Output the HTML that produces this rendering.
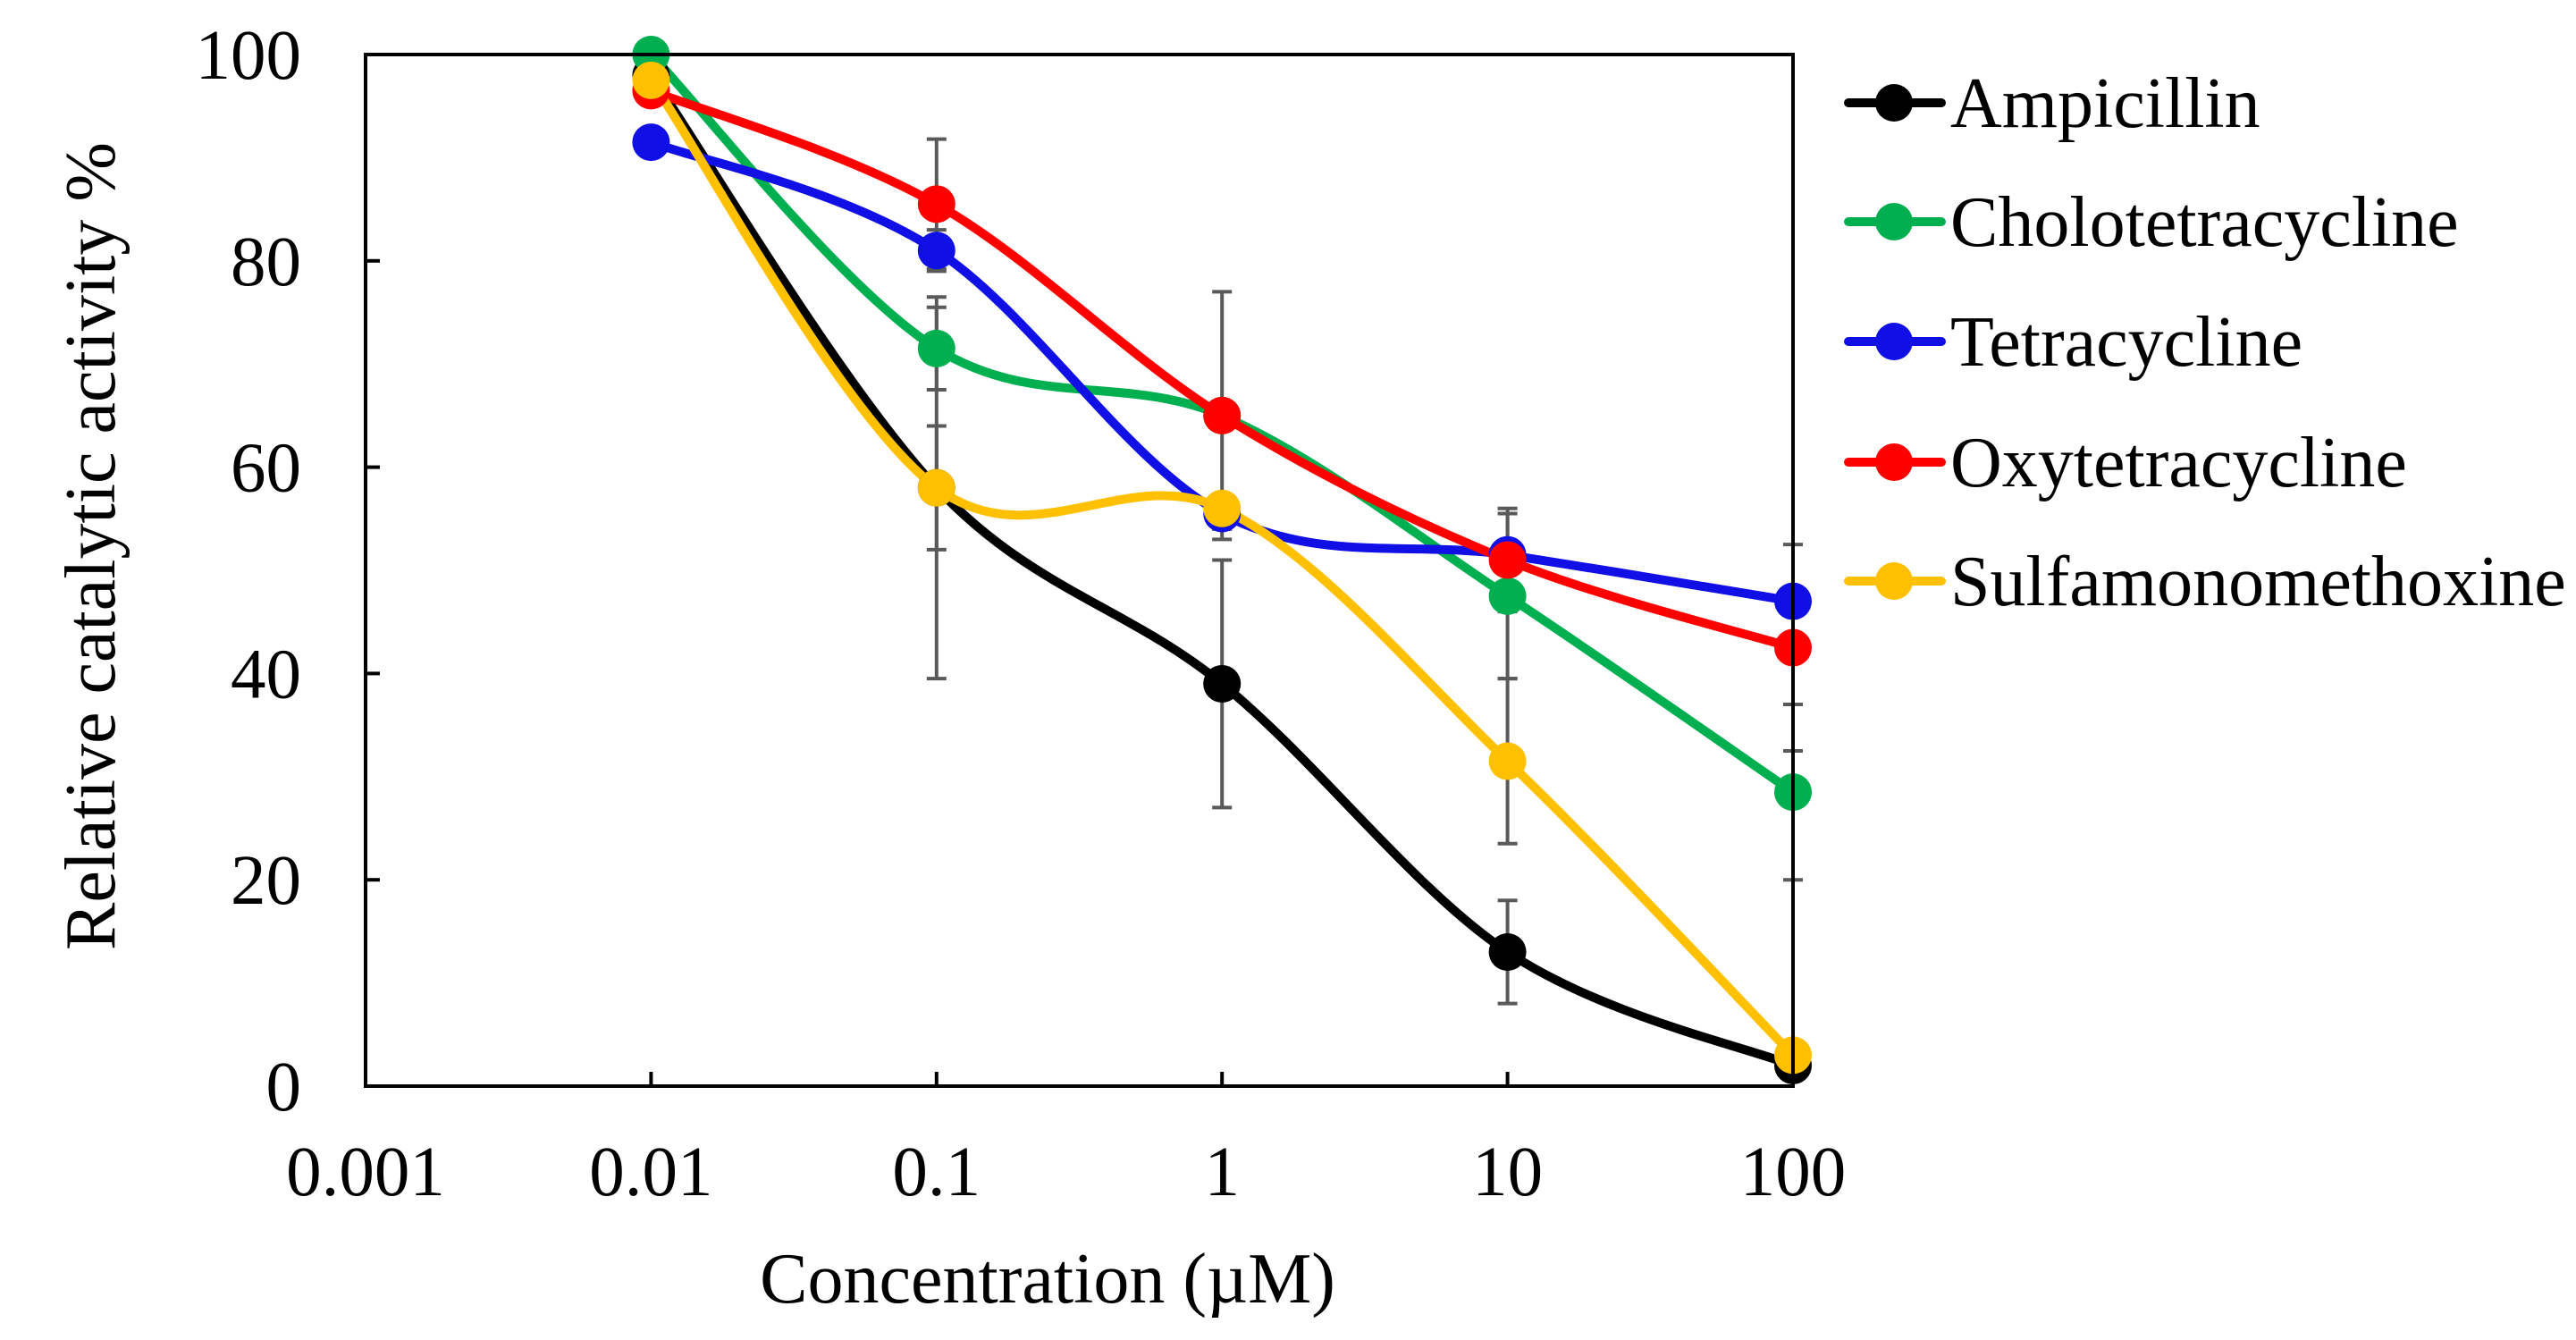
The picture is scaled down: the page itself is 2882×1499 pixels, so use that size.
<!DOCTYPE html>
<html><head><meta charset="utf-8"><style>
html,body{margin:0;padding:0;background:#fff;}
svg{display:block;font-family:"Liberation Serif",serif;}
</style></head><body>
<svg id="chart" width="2882" height="1499" viewBox="0 0 2882 1499" xmlns="http://www.w3.org/2000/svg">
<g id="errs"></g>
<g id="lines"></g>
<g id="marks"></g>
<g id="axes"></g>
<g id="legend"></g>
</svg>
<script>
const xValues = [0.01, 0.1, 1, 10, 100];
const xTicks = ["0.001","0.01","0.1","1","10","100"];
const yTicks = [0,20,40,60,80,100];
const seriesNames = ["Ampicillin","Cholotetracycline","Tetracycline","Oxytetracycline","Sulfamonomethoxine"];
const seriesColors = ["#000000","#00b050","#1010e6","#ff0000","#ffc000"];
const ampicillin = [98, 58, 39, 13, 2];
const cholotetracycline = [100, 71.5, 65, 47.5, 28.5];
const tetracycline = [91.5, 81, 55.5, 51.5, 47];
const oxytetracycline = [96.5, 85.5, 65, 51, 42.5];
const sulfamonomethoxine = [97.5, 58, 56, 31.5, 3];
const errAmpicillin = [0, 6, 12, 5, 1];
const errCholo = [0, 4, 1, 8, 8.5];
const errTetra = [0, 2, 1.5, 1, 0];
const errOxy = [0, 6.3, 12, 5, 10];
const errSulfa = [0, 18.5, 1, 8, 1];

const seriesData = [ampicillin, cholotetracycline, tetracycline, oxytetracycline, sulfamonomethoxine];
const seriesErr = [errAmpicillin, errCholo, errTetra, errOxy, errSulfa];
const L=409, R=2006, T=61, B=1215;
const NS="http://www.w3.org/2000/svg";
function xs(v){return L+(Math.log10(v)+3)/5*(R-L);}
function ys(v){return B-v/100*(B-T);}
function mk(tag,attrs,parent){const e=document.createElementNS(NS,tag);for(const k in attrs)e.setAttribute(k,attrs[k]);parent.appendChild(e);return e;}
const errs=document.getElementById('errs'),lines=document.getElementById('lines'),marks=document.getElementById('marks'),axes=document.getElementById('axes'),legend=document.getElementById('legend');

function smooth(pts){
  let d=`M${pts[0][0]},${pts[0][1]}`;
  for(let i=0;i<pts.length-1;i++){
    const p0=pts[Math.max(0,i-1)],p1=pts[i],p2=pts[i+1],p3=pts[Math.min(pts.length-1,i+2)];
    const t=1/6;
    const c1=[p1[0]+(p2[0]-p0[0])*t,p1[1]+(p2[1]-p0[1])*t];
    const c2=[p2[0]-(p3[0]-p1[0])*t,p2[1]-(p3[1]-p1[1])*t];
    d+=` C${c1[0]},${c1[1]} ${c2[0]},${c2[1]} ${p2[0]},${p2[1]}`;
  }
  return d;
}

seriesData.forEach((arr,si)=>{
  arr.forEach((v,i)=>{
    const e=seriesErr[si][i]; if(!e) return;
    const x=xs(xValues[i]);
    const g=mk('g',{},errs);
    
    
    mk('line',{x1:x,x2:x,y1:ys(v-e),y2:ys(v+e),stroke:'#595959','stroke-width':4},g);
    mk('line',{x1:x-11,x2:x+11,y1:ys(v-e),y2:ys(v-e),stroke:'#595959','stroke-width':4},g);
    mk('line',{x1:x-11,x2:x+11,y1:ys(v+e),y2:ys(v+e),stroke:'#595959','stroke-width':4},g);
  });
});
seriesData.forEach((arr,si)=>{
  const pts=arr.map((v,i)=>[xs(xValues[i]),ys(v)]);
  const p=mk('path',{d:smooth(pts),fill:'none',stroke:seriesColors[si],'stroke-width':10,'stroke-linejoin':'round'},lines);
  
  
  pts.forEach(pt=>{
    const c=mk('circle',{cx:pt[0],cy:pt[1],r:21,fill:seriesColors[si]},marks);
    
    
  });
});
// axes
const ax=mk('path',{d:`M${L},${T} H${R} V${B} H${L} Z`,fill:'none',stroke:'#000','stroke-width':4},axes);


yTicks.forEach(v=>{
  mk('line',{x1:L,x2:L+16,y1:ys(v),y2:ys(v),stroke:'#000','stroke-width':4},axes);
  const t=mk('text',{x:337,y:ys(v)+27,'text-anchor':'end','font-size':79},axes);
  t.textContent=v;
  
  
});
xTicks.forEach(s=>{
  const x=xs(parseFloat(s));
  mk('line',{x1:x,x2:x,y1:B,y2:B-16,stroke:'#000','stroke-width':4},axes);
  const t=mk('text',{x:x,y:1337,'text-anchor':'middle','font-size':79},axes);
  t.textContent=s;
  
  
});
const xt=mk('text',{x:1172,y:1457,'text-anchor':'middle','font-size':80},axes);
xt.textContent='Concentration (\u00b5M)';


const yt=mk('text',{x:0,y:0,'text-anchor':'middle','font-size':80,transform:'translate(128,611) rotate(-90)'},axes);
yt.textContent='Relative catalytic activity %';


// legend
const legY=[115,248,382,517,650];
seriesNames.forEach((n,i)=>{
  const g=mk('g',{},legend);
  
  
  mk('line',{x1:2068,x2:2172,y1:legY[i],y2:legY[i],stroke:seriesColors[i],'stroke-width':10,'stroke-linecap':'round'},g);
  mk('circle',{cx:2119,cy:legY[i],r:21,fill:seriesColors[i]},g);
  const t=mk('text',{x:2182,y:legY[i]+27,'font-size':80},g);
  t.textContent=n;
});
</script>
</body></html>
